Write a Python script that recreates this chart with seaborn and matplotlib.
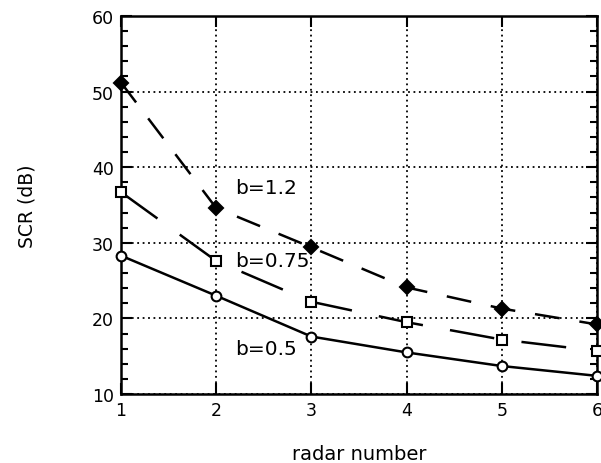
import matplotlib
matplotlib.use("Agg")
import matplotlib.pyplot as plt
import seaborn as sns
import numpy as np
import pandas as pd
from matplotlib.ticker import MultipleLocator

radar = [1, 2, 3, 4, 5, 6]
scr_b12 = [51.2, 34.6, 29.4, 24.1, 21.3, 19.2]
scr_b075 = [36.7, 27.6, 22.2, 19.5, 17.2, 15.7]
scr_b05 = [28.3, 23.0, 17.6, 15.5, 13.7, 12.4]
labels = ["b=1.2", "b=0.75", "b=0.5"]
label_pos = [(2.2, 37.3), (2.2, 27.7), (2.2, 16.0)]

sns.set_theme(style="white")
plt.rcParams['font.family'] = ['DejaVu Sans']

fig = plt.figure(figsize=(6.01, 4.64), dpi=100)
ax = fig.add_axes([0.2013, 0.1487, 0.7920, 0.8147])

series = [
    (scr_b12, dict(marker="D", markersize=7.5, markerfacecolor="black", markeredgecolor="black", dashes=(10, 8))),
    (scr_b075, dict(marker="s", markersize=7, markerfacecolor="white", markeredgecolor="black", dashes=(18, 11))),
    (scr_b05, dict(marker="o", markersize=7, markerfacecolor="white", markeredgecolor="black")),
]
for vals, kw in series:
    df = pd.DataFrame({"x": radar, "y": vals})
    sns.lineplot(data=df, x="x", y="y", ax=ax, color="black", linewidth=1.8,
                 markeredgewidth=1.5, clip_on=False, zorder=3, **kw)

for lab, (lx, ly) in zip(labels, label_pos):
    ax.text(lx, ly, lab, fontsize=14.5, ha="left", va="center", color="black")

ax.set_xlim(1, 6)
ax.set_ylim(10, 60)
ax.xaxis.set_major_locator(MultipleLocator(1))
ax.yaxis.set_major_locator(MultipleLocator(10))
ax.yaxis.set_minor_locator(MultipleLocator(2))
ax.grid(True, which="major", linestyle=(0, (1, 2)), color="black", linewidth=1.3)
ax.tick_params(which="both", direction="in", top=True, right=True, bottom=True, left=True,
               color="black", labelsize=12.5, labelcolor="black")
ax.tick_params(which="major", length=8, width=1.5, pad=5)
ax.tick_params(which="minor", length=5, width=1.5)
for s in ax.spines.values():
    s.set_color("black")
    s.set_linewidth(1.8)
    s.set_visible(True)
ax.set_xlabel("radar number", fontsize=14, labelpad=18, color="black")
ax.set_ylabel("SCR (dB)", fontsize=13.5, labelpad=40, color="black")

fig.savefig("out.png", dpi=100, facecolor="white")
